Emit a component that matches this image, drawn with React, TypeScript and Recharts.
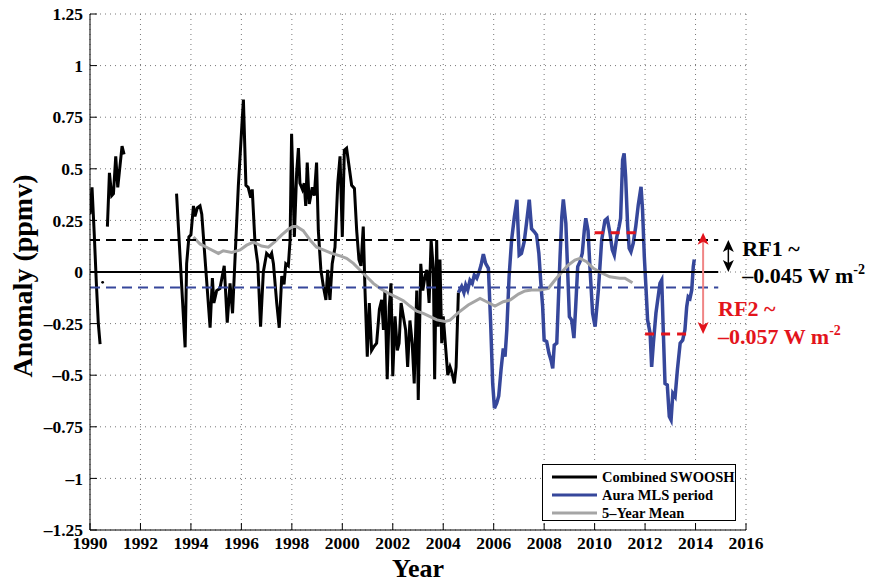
import {
  ComposedChart,
  Line,
  XAxis,
  YAxis,
  CartesianGrid,
  ReferenceLine,
  Legend,
  Label,
} from 'recharts';

type Pt = [number, number];

const FONT = '"Liberation Serif", "Times New Roman", serif';

const yearTicks = [1990, 1992, 1994, 1996, 1998, 2000, 2002, 2004, 2006, 2008, 2010, 2012, 2014, 2016];
const anomalyTicks = [-1.25, -1, -0.75, -0.5, -0.25, 0, 0.25, 0.5, 0.75, 1, 1.25];

// Combined SWOOSH record, split where months are missing
const swoosh1990: Pt[] = [
  [1990.0, 0.28], [1990.08, 0.41], [1990.17, 0.18], [1990.25, -0.05], [1990.33, -0.25], [1990.4, -0.35],
];
const swooshLone: Pt[] = [[1990.5, -0.05]];
const swoosh1991: Pt[] = [
  [1990.69, 0.22], [1990.77, 0.48], [1990.86, 0.37], [1990.93, 0.38], [1991.02, 0.56],
  [1991.1, 0.41], [1991.16, 0.48], [1991.27, 0.61], [1991.35, 0.57],
];
const swooshMain: Pt[] = [
  [1993.43, 0.38], [1993.77, -0.365], [1993.83, 0.04], [1993.92, 0.17], [1994.0, 0.18],
  [1994.1, 0.32], [1994.16, 0.27], [1994.25, 0.31], [1994.36, 0.32], [1994.43, 0.28],
  [1994.76, -0.27], [1994.85, -0.03], [1994.91, -0.15], [1995.02, -0.09], [1995.15, -0.08],
  [1995.32, 0.03], [1995.44, -0.245], [1995.55, -0.055], [1995.65, -0.2], [1995.88, 0.42],
  [1996.08, 0.835], [1996.18, 0.42], [1996.27, 0.41], [1996.37, 0.36], [1996.43, 0.4],
  [1996.54, 0.14], [1996.65, 0.04], [1996.76, -0.265], [1996.87, 0.0], [1997.0, 0.09],
  [1997.13, 0.074], [1997.2, 0.09], [1997.27, 0.04], [1997.4, -0.15], [1997.5, -0.27],
  [1997.6, -0.02], [1997.69, -0.06], [1997.76, 0.04], [1997.86, 0.03], [1997.93, 0.155],
  [1997.99, 0.67], [1998.1, 0.17], [1998.19, 0.48], [1998.26, 0.6], [1998.32, 0.43],
  [1998.42, 0.4], [1998.49, 0.43], [1998.55, 0.32], [1998.61, 0.53], [1998.69, 0.33],
  [1998.81, 0.41], [1998.89, 0.37], [1998.98, 0.53], [1999.05, 0.2], [1999.15, 0.01],
  [1999.25, -0.07], [1999.35, -0.135], [1999.42, 0.01], [1999.51, -0.135], [1999.6, 0.04],
  [1999.71, 0.12], [1999.82, 0.43], [1999.91, 0.56], [2000.0, 0.17], [2000.08, 0.59],
  [2000.17, 0.6], [2000.27, 0.51], [2000.37, 0.42], [2000.48, 0.405], [2000.57, 0.2],
  [2000.66, 0.06], [2000.74, 0.03], [2000.83, 0.22], [2000.9, -0.09], [2000.99, -0.41],
  [2001.07, -0.15], [2001.16, -0.38], [2001.26, -0.36], [2001.36, -0.345], [2001.47, -0.18],
  [2001.56, -0.135], [2001.63, -0.28], [2001.69, -0.09], [2001.78, -0.52], [2001.86, -0.17],
  [2001.93, -0.055], [2002.0, -0.505], [2002.09, -0.215], [2002.18, -0.38], [2002.25, -0.345],
  [2002.33, -0.15], [2002.42, -0.215], [2002.51, -0.28], [2002.59, -0.46], [2002.68, -0.235],
  [2002.77, -0.345], [2002.85, -0.54], [2002.95, -0.09], [2003.01, -0.62], [2003.11, 0.04],
  [2003.19, -0.09], [2003.28, -0.02], [2003.35, 0.01], [2003.44, -0.15], [2003.52, 0.155],
  [2003.61, 0.01], [2003.66, -0.52], [2003.74, 0.155], [2003.8, -0.265], [2003.87, 0.06],
  [2003.94, -0.345], [2004.0, -0.215], [2004.18, -0.5], [2004.27, -0.46], [2004.34, -0.485],
  [2004.44, -0.54], [2004.51, -0.46], [2004.6, -0.1],
];

// Aura MLS period
const auraMls: Pt[] = [
  [2004.6, -0.1], [2004.73, -0.07], [2004.82, -0.1], [2004.89, -0.063], [2004.97, -0.087],
  [2005.06, -0.04], [2005.15, -0.055], [2005.23, -0.015], [2005.33, -0.03], [2005.42, 0.0],
  [2005.5, 0.034], [2005.59, 0.087], [2005.68, 0.042], [2005.79, 0.018], [2005.88, -0.25],
  [2005.96, -0.54], [2006.03, -0.66], [2006.12, -0.636], [2006.2, -0.6], [2006.29, -0.475],
  [2006.38, -0.37], [2006.45, -0.41], [2006.52, -0.28], [2006.61, -0.023], [2006.71, 0.155],
  [2006.82, 0.268], [2006.92, 0.35], [2007.01, 0.082], [2007.1, 0.09], [2007.21, 0.147],
  [2007.3, 0.236], [2007.41, 0.35], [2007.5, 0.21], [2007.61, 0.195], [2007.7, 0.18],
  [2007.79, 0.09], [2007.87, -0.055], [2007.94, -0.168], [2008.0, -0.33], [2008.1, -0.337],
  [2008.19, -0.394], [2008.27, -0.426], [2008.34, -0.467], [2008.4, -0.354], [2008.5, -0.345],
  [2008.56, -0.152], [2008.63, 0.074], [2008.7, 0.268], [2008.76, 0.352], [2008.86, 0.236],
  [2008.94, -0.023], [2009.0, -0.216], [2009.09, -0.233], [2009.18, -0.32], [2009.25, -0.168],
  [2009.33, 0.026], [2009.42, 0.05], [2009.51, 0.09], [2009.59, 0.2], [2009.65, 0.26],
  [2009.74, 0.2], [2009.82, 0.01], [2009.92, -0.2], [2010.02, -0.265], [2010.15, -0.087],
  [2010.28, 0.155], [2010.41, 0.25], [2010.5, 0.26], [2010.61, 0.188], [2010.7, 0.107],
  [2010.78, 0.082], [2010.88, 0.17], [2010.97, 0.22], [2011.03, 0.26], [2011.11, 0.543],
  [2011.17, 0.575], [2011.23, 0.46], [2011.31, 0.22], [2011.37, 0.115], [2011.44, 0.098],
  [2011.53, 0.139], [2011.63, 0.22], [2011.73, 0.325], [2011.84, 0.413], [2011.9, 0.3],
  [2011.97, 0.074], [2012.04, -0.087], [2012.1, -0.233], [2012.2, -0.297], [2012.26, -0.46],
  [2012.33, -0.345], [2012.43, -0.2], [2012.59, -0.055], [2012.66, -0.039], [2012.72, -0.28],
  [2012.79, -0.54], [2012.88, -0.547], [2012.96, -0.7], [2013.03, -0.717], [2013.1, -0.588],
  [2013.19, -0.604], [2013.28, -0.475], [2013.39, -0.345], [2013.49, -0.33], [2013.58, -0.28],
  [2013.65, -0.168], [2013.71, -0.12], [2013.78, -0.128], [2013.85, -0.087], [2013.91, 0.026],
  [2013.95, 0.06],
];

// running 5-year mean
const fiveYearMean: Pt[] = [
  [1994.1, 0.17], [1994.36, 0.136], [1994.69, 0.115], [1995.09, 0.09], [1995.28, 0.103],
  [1995.62, 0.095], [1995.95, 0.107], [1996.21, 0.13], [1996.47, 0.145], [1996.8, 0.126],
  [1997.07, 0.12], [1997.33, 0.147], [1997.6, 0.18], [1997.86, 0.207], [1998.05, 0.22],
  [1998.19, 0.22], [1998.45, 0.2], [1998.72, 0.155], [1998.98, 0.12], [1999.25, 0.107],
  [1999.58, 0.09], [1999.91, 0.078], [2000.17, 0.066], [2000.44, 0.042], [2000.7, 0.01],
  [2000.97, -0.023], [2001.23, -0.055], [2001.49, -0.079], [2001.82, -0.103], [2002.16, -0.123],
  [2002.42, -0.139], [2002.68, -0.165], [2002.95, -0.19], [2003.21, -0.2], [2003.48, -0.216],
  [2003.75, -0.232], [2004.07, -0.24], [2004.27, -0.233], [2004.6, -0.197], [2004.99, -0.16],
  [2005.46, -0.128], [2005.72, -0.144], [2006.05, -0.165], [2006.38, -0.144], [2006.65, -0.136],
  [2006.98, -0.107], [2007.24, -0.092], [2007.5, -0.087], [2007.84, -0.087], [2008.17, -0.079],
  [2008.43, -0.039], [2008.7, 0.0], [2008.96, 0.034], [2009.22, 0.058], [2009.42, 0.066],
  [2009.68, 0.05], [2009.95, 0.018], [2010.28, -0.005], [2010.6, -0.023], [2011.0, -0.03],
  [2011.2, -0.03], [2011.5, -0.052],
];

// mean levels and the two forcing estimates
const preMlsLevel = 0.155;
const mlsLevel = -0.075;
const levelEnd = 2014.9;
const rf2HighLevel = 0.19;
const rf2HighSpan: [number, number] = [2010.0, 2011.75];
const rf2LowLevel = -0.3;
const rf2LowSpan: [number, number] = [2012.0, 2013.7];
const rf1Year = 2015.3;
const rf2Year = 2014.3;
const rf1Text = ['RF1 ~', '–0.045 W m'];
const rf2Text = ['RF2 ~', '–0.057 W m'];

const legendOrder = ['Combined SWOOSH', 'Aura MLS period', '5–Year Mean'];

type Row = { year: number; v: number | null };

function toRows(...segments: Pt[][]): Row[] {
  const rows: Row[] = [];
  segments.forEach((seg, i) => {
    if (i > 0) rows.push({ year: (rows[rows.length - 1].year + seg[0][0]) / 2, v: null });
    seg.forEach(([year, v]) => rows.push({ year, v }));
  });
  return rows;
}

const swooshRows = toRows(swoosh1990, swoosh1991, swooshMain);
const loneRows = toRows(swooshLone);
const auraRows = toRows(auraMls);
const meanRows = toRows(fiveYearMean);

const RED = '#e3141c';
const BLUE = '#36479b';

function formatAnomaly(v: number) {
  if (v === 0) return '0';
  return (v < 0 ? '–' : '') + String(Math.abs(v));
}

// vertical double-headed arrow with a two-line note beside it
function rfArrow(head: string, shaft: string, text: string[], below: boolean) {
  return (p: any) => {
    const x = p.x1;
    const top = Math.min(p.y1, p.y2);
    const bottom = Math.max(p.y1, p.y2);
    const hl = 12;
    const hw = 5.5;
    const tx = x + (below ? 15 : 14);
    const base1 = below ? bottom - 18 : top + 16;
    const base2 = below ? bottom + 10 : top + 43;
    return (
      <g>
        <line x1={x} x2={x} y1={top + hl - 3} y2={bottom - hl + 3} stroke={shaft} strokeWidth={below ? 2 : 1.5} />
        <path d={`M${x},${top} L${x + hw},${top + hl} L${x},${top + hl - 3} L${x - hw},${top + hl} Z`} fill={head} />
        <path d={`M${x},${bottom} L${x + hw},${bottom - hl} L${x},${bottom - hl + 3} L${x - hw},${bottom - hl} Z`} fill={head} />
        <text x={tx} y={base1} fill={head} fontFamily={FONT} fontWeight="bold" fontSize={22}>
          {text[0]}
        </text>
        <text x={tx} y={base2} fill={head} fontFamily={FONT} fontWeight="bold" fontSize={22}>
          {text[1]}
          <tspan fontSize={14} dy={-9}>-2</tspan>
        </text>
      </g>
    );
  };
}

function LegendBox({ payload }: any) {
  const items = legendOrder
    .map((name) => (payload || []).find((p: any) => p.value === name))
    .filter(Boolean);
  return (
    <div
      style={{
        border: '1px solid #000',
        background: '#fff',
        width: 194,
        height: 57,
        padding: '3px 0 0 0',
        boxSizing: 'border-box',
        fontFamily: FONT,
        fontWeight: 'bold',
        fontSize: 14.5,
        lineHeight: '18px',
      }}
    >
      {items.map((item: any) => (
        <div key={item.value} style={{ display: 'flex', alignItems: 'center', height: 18 }}>
          <svg width={54} height={6} style={{ marginRight: 5, flex: 'none' }}>
            <line x1={9} x2={54} y1={3} y2={3} stroke={item.color} strokeWidth={3} />
          </svg>
          <span style={{ whiteSpace: 'nowrap' }}>{item.value}</span>
        </div>
      ))}
    </div>
  );
}

const tickStyle = { fill: '#000', fontSize: 17.5, fontWeight: 'bold', fontFamily: FONT };

export default function App() {
  return (
    <div style={{ position: 'absolute', left: 0, top: 0, width: 872, height: 582, background: '#fff' }}>
      <ComposedChart width={872} height={582} margin={{ top: 14, right: 126, bottom: 0, left: 0 }}>
        <CartesianGrid stroke="#777" strokeDasharray="1 4" />
        <XAxis
          dataKey="year"
          type="number"
          domain={[1990, 2016]}
          ticks={yearTicks}
          interval={0}
          allowDataOverflow
          height={52}
          tick={tickStyle}
          tickSize={-7}
          tickMargin={14}
          axisLine={{ stroke: '#000' }}
          tickLine={{ stroke: '#000' }}
          label={
            <Label
              content={({ viewBox }: any) => (
                <text
                  x={viewBox.x + viewBox.width / 2}
                  y={viewBox.y + 46.5}
                  textAnchor="middle"
                  fontFamily={FONT}
                  fontWeight="bold"
                  fontSize={26}
                  fill="#000"
                >
                  Year
                </text>
              )}
            />
          }
        />
        <YAxis
          type="number"
          domain={[-1.25, 1.25]}
          ticks={anomalyTicks}
          interval={0}
          allowDataOverflow
          width={90}
          tick={tickStyle}
          tickFormatter={formatAnomaly}
          tickSize={-7}
          tickMargin={14}
          axisLine={{ stroke: '#000' }}
          tickLine={{ stroke: '#000' }}
          label={
            <Label
              content={({ viewBox }: any) => {
                const x = viewBox.x + 32;
                const y = viewBox.y + viewBox.height / 2 + 4;
                return (
                  <text
                    x={x}
                    y={y}
                    transform={`rotate(-90 ${x} ${y})`}
                    textAnchor="middle"
                    fontFamily={FONT}
                    fontWeight="bold"
                    fontSize={28}
                    fill="#000"
                  >
                    Anomaly (ppmv)
                  </text>
                );
              }}
            />
          }
        />
        <Line data={swooshRows} dataKey="v" name="Combined SWOOSH" stroke="#000" strokeWidth={3} dot={false} isAnimationActive={false} />
        <Line data={loneRows} dataKey="v" name="lone" legendType="none" stroke="#000" dot={{ r: 1.4, fill: '#000', stroke: 'none' }} isAnimationActive={false} />
        <Line data={auraRows} dataKey="v" name="Aura MLS period" stroke={BLUE} strokeWidth={3.5} dot={false} isAnimationActive={false} />
        <Line data={meanRows} dataKey="v" name="5–Year Mean" stroke="#a5a5a5" strokeWidth={3} dot={false} isAnimationActive={false} />

        <ReferenceLine segment={[{ x: 1990, y: 0 }, { x: levelEnd, y: 0 }]} stroke="#000" strokeWidth={2} />
        <ReferenceLine segment={[{ x: 1990, y: preMlsLevel }, { x: levelEnd, y: preMlsLevel }]} stroke="#000" strokeWidth={2} strokeDasharray="10 6" />
        <ReferenceLine segment={[{ x: 1990, y: mlsLevel }, { x: levelEnd, y: mlsLevel }]} stroke={BLUE} strokeWidth={2} strokeDasharray="10 6" />
        <ReferenceLine segment={[{ x: rf2HighSpan[0], y: rf2HighLevel }, { x: rf2HighSpan[1], y: rf2HighLevel }]} stroke={RED} strokeWidth={3} strokeDasharray="9 7" />
        <ReferenceLine segment={[{ x: rf2LowSpan[0], y: rf2LowLevel }, { x: rf2LowSpan[1], y: rf2LowLevel }]} stroke={RED} strokeWidth={3} strokeDasharray="9 7" />
        <ReferenceLine
          segment={[{ x: rf1Year, y: preMlsLevel }, { x: rf1Year, y: 0 }]}
          shape={rfArrow('#000', '#000', rf1Text, false)}
        />
        <ReferenceLine
          segment={[{ x: rf2Year, y: rf2HighLevel }, { x: rf2Year, y: rf2LowLevel }]}
          shape={rfArrow(RED, '#f08585', rf2Text, true)}
        />

        <Legend
          content={<LegendBox />}
          layout="horizontal"
          verticalAlign="middle"
          align="center"
          wrapperStyle={{ left: 542, top: 464, width: 196 }}
        />
      </ComposedChart>
    </div>
  );
}
